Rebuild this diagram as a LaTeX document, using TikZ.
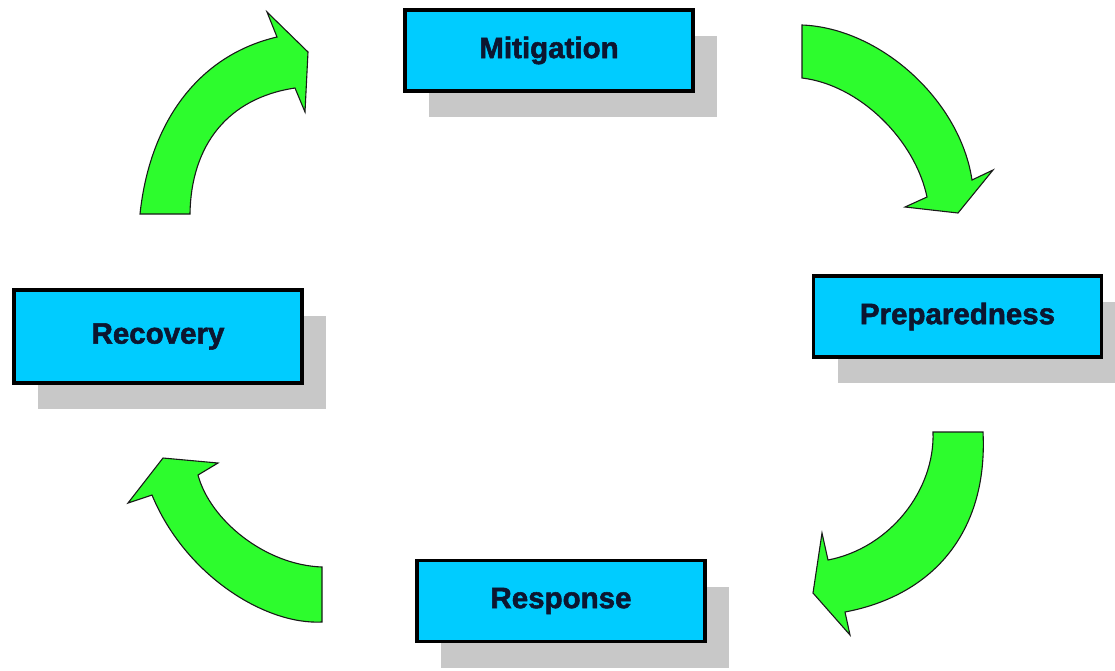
\documentclass[tikz,border=0pt]{standalone}
\usepackage{fontspec}
\setmainfont{Liberation Sans}
\newfontfamily\boxfont[FakeBold=1.8]{Liberation Sans Bold}
\usetikzlibrary{shadows}
\definecolor{boxcyan}{RGB}{0,204,255}
\definecolor{shadowgray}{RGB}{200,200,200}
\definecolor{arrowgreen}{RGB}{45,252,45}
\definecolor{textnavy}{RGB}{12,22,48}
\tikzset{
  phasebox/.style={rectangle, draw=black, line width=3.5pt, fill=boxcyan,
    inner sep=0pt, minimum width=288pt, minimum height=81pt,
    font=\boxfont\fontsize{29.5}{32}\selectfont, text=textnavy,
    drop shadow={shadow xshift=24pt, shadow yshift=-26pt, fill=shadowgray, opacity=1}},
  blockarrow/.style={fill=arrowgreen, draw=black!90, line width=1.1pt, line join=miter}
}
\begin{document}
\begin{tikzpicture}[x=1pt,y=-1pt]
\useasboundingbox (0,0) rectangle (1115,670);
% boxes
\node[phasebox] (mit) at (549,50.5) {Mitigation};
\node[phasebox, minimum height=93pt] (rec) at (158,336.5) {Recovery};
\node[phasebox] (prep) at (957.5,316.5) {Preparedness};
\node[phasebox] (resp) at (561,601) {Response};
% arrow Recovery -> Mitigation
\draw[blockarrow] (140,214) .. controls (150,120) and (200,55) .. (277,37)
  -- (267,12) -- (308,52) -- (305,112) -- (295,88)
  .. controls (228,98) and (191,145) .. (190,214) -- cycle;
% arrow Mitigation -> Preparedness
\draw[blockarrow] (802,25) .. controls (880,28) and (960,100) .. (972,180)
  -- (993,170) -- (958,213) -- (905,207) -- (927,197)
  .. controls (915,140) and (860,85) .. (802,78) -- cycle;
% arrow Preparedness -> Response
\draw[blockarrow] (933,432) -- (983,432) .. controls (988,530) and (935,595) .. (845,612)
  -- (850,635) -- (813,593) -- (822,533) -- (828,560)
  .. controls (890,548) and (935,490) .. (933,432) -- cycle;
% arrow Response -> Recovery
\draw[blockarrow] (322,622) .. controls (265,625) and (185,575) .. (152,495)
  -- (128,503) -- (163,458) -- (218,463) -- (198,475)
  .. controls (210,520) and (265,565) .. (322,567) -- cycle;
\end{tikzpicture}
\end{document}
